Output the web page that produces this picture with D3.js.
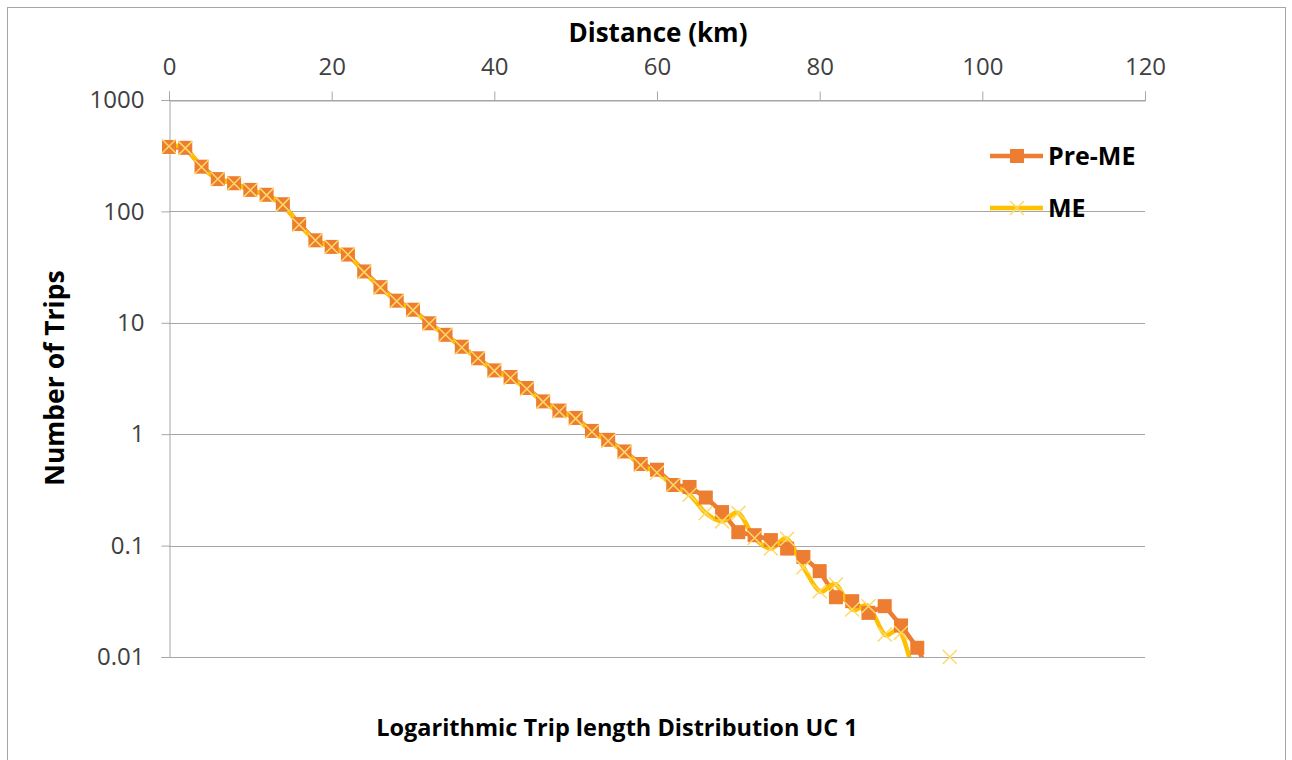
<!DOCTYPE html>
<html><head><meta charset="utf-8">
<script src="https://cdn.jsdelivr.net/npm/d3@7"></script>
<style>html,body{margin:0;padding:0;background:#fff;overflow:hidden}</style>
</head><body>
<script>
const distances = [0,2,4,6,8,10,12,14,16,18,20,22,24,26,28,30,32,34,36,38,40,42,44,46,48,50,52,54,56,58,60,62,64,66,68,70,72,74,76,78,80,82,84,86,88,90,92,94,96];
const preME = [379,372,252,195,179,156,141,116,77,55,48,41,28.9,20.9,15.8,13.1,9.9,7.8,6.1,4.8,3.74,3.26,2.6,1.97,1.63,1.40,1.07,0.89,0.70,0.54,0.48,0.35,0.336,0.27,0.20,0.132,0.124,0.112,0.094,0.079,0.059,0.0344,0.0317,0.0249,0.0286,0.0192,0.0121,0.006,null];
const me = [385,370,250,195,178,155,140,115,76,55,48,41,28.5,20.7,15.6,13.0,9.8,7.8,6.0,4.8,3.7,3.2,2.55,1.95,1.6,1.38,1.05,0.87,0.69,0.53,0.45,0.35,0.286,0.196,0.165,0.196,0.117,0.094,0.115,0.064,0.039,0.0447,0.0267,0.0286,0.0159,0.0165,0.005,null,0.01];
const xTicks = [0,20,40,60,80,100,120];
const yTicks = [1000,100,10,1,0.1,0.01];
const seriesNames = ["Pre-ME","ME"];

const W = 1292, H = 760;
const svg = d3.select("body").append("svg").attr("width", W).attr("height", H);
const font = "'Open Sans', Lato, sans-serif";

svg.append("rect").attr("x",7.5).attr("y",7.5).attr("width",1278).attr("height",800)
  .attr("fill","#fff").attr("stroke","#a6a6a6").attr("stroke-width",1);

const x = d3.scaleLinear().domain([0,120]).range([169,1145]);
const y = d3.scaleLog().domain([0.01,1000]).range([657,100]);

// gridlines
svg.append("g").selectAll("line").data(yTicks).join("line")
  .attr("x1",169).attr("x2",1145)
  .attr("y1",d=>Math.round(y(d))+0.5).attr("y2",d=>Math.round(y(d))+0.5)
  .attr("stroke","#a6a6a6").attr("stroke-width",1);

// left axis
const yAxis = svg.append("g").attr("transform","translate(169.5,0)")
  .call(d3.axisLeft(y).tickValues(yTicks).tickSize(8).tickPadding(17)
    .tickFormat(d=>d3.format("~g")(d)));
yAxis.select(".domain").attr("stroke","#a6a6a6");
yAxis.selectAll(".tick line").attr("stroke","#a6a6a6");
yAxis.selectAll("text").attr("font-family",font).attr("font-size",24).attr("fill","#404040");

// top axis
const xAxis = svg.append("g").attr("transform","translate(0,100.5)")
  .call(d3.axisTop(x).tickValues(xTicks).tickSize(9).tickPadding(17));
xAxis.select(".domain").attr("stroke","#a6a6a6");
xAxis.selectAll(".tick line").attr("stroke","#a6a6a6");
xAxis.selectAll("text").attr("font-family",font).attr("font-size",24).attr("fill","#404040");

// clip
svg.append("clipPath").attr("id","plot").append("rect")
  .attr("x",169).attr("y",100).attr("width",976).attr("height",557);

const preData = distances.map((d,i)=>({x:d,v:preME[i]}));
const meData = distances.map((d,i)=>({x:d,v:me[i]}));
const orange = "#ED7D31", yellow = "#FFC000";

const linePre = d3.line().defined(d=>d.v!=null).x(d=>x(d.x)).y(d=>y(d.v));
const lineMe = d3.line().defined(d=>d.v!=null).x(d=>x(d.x)).y(d=>y(d.v)).curve(d3.curveCardinal.tension(0));

const g = svg.append("g").attr("clip-path","url(#plot)");
g.append("path").datum(preData).attr("d",linePre).attr("fill","none")
  .attr("stroke",orange).attr("stroke-width",4.5).attr("stroke-linejoin","round");

const inDom = d=>d.v!=null && d.v>=0.0099;
svg.append("g").selectAll("rect").data(preData.filter(inDom)).join("rect")
  .attr("x",d=>x(d.x)-7).attr("y",d=>y(d.v)-7).attr("width",14).attr("height",14)
  .attr("fill",orange);

g.append("path").datum(meData).attr("d",lineMe).attr("fill","none")
  .attr("stroke",yellow).attr("stroke-width",4.5).attr("stroke-linejoin","round");

const xm = svg.append("g");
meData.filter(inDom).forEach(d=>{
  const cx=x(d.x), cy=y(d.v), s=7;
  xm.append("path").attr("d",`M${cx-s},${cy-s}L${cx+s},${cy+s}M${cx-s},${cy+s}L${cx+s},${cy-s}`)
    .attr("stroke","#FFD966").attr("stroke-width",1.5).attr("fill","none");
});

// legend
const legY = [156,208];
const leg = svg.append("g");
seriesNames.forEach((n,i)=>{
  const col = i===0?orange:yellow;
  leg.append("line").attr("x1",990).attr("x2",1043).attr("y1",legY[i]).attr("y2",legY[i])
    .attr("stroke",col).attr("stroke-width",4.5);
  if(i===0){
    leg.append("rect").attr("x",1010).attr("y",legY[i]-7).attr("width",14).attr("height",14).attr("fill",orange);
  } else {
    const cx=1017, cy=legY[i], s=7;
    leg.append("path").attr("d",`M${cx-s},${cy-s}L${cx+s},${cy+s}M${cx-s},${cy+s}L${cx+s},${cy-s}`)
      .attr("stroke","#FFD966").attr("stroke-width",1.5);
  }
  leg.append("text").attr("x",1048).attr("y",legY[i]).attr("dy","0.36em")
    .attr("font-family",font).attr("font-weight","bold").attr("font-size",25).attr("fill","#000").text(n);
});

// titles
svg.append("text").attr("x",658).attr("y",42).attr("text-anchor","middle")
  .attr("font-family",font).attr("font-weight","bold").attr("font-size",26).attr("fill","#000").text("Distance (km)");
svg.append("text").attr("x",617).attr("y",736).attr("text-anchor","middle")
  .attr("font-family",font).attr("font-weight","bold").attr("font-size",23.5).attr("fill","#000").text("Logarithmic Trip length Distribution UC 1");
svg.append("text").attr("transform","translate(64,378) rotate(-90)").attr("text-anchor","middle")
  .attr("font-family",font).attr("font-weight","bold").attr("font-size",26.5).attr("fill","#000").text("Number of Trips");
</script>
</body></html>
